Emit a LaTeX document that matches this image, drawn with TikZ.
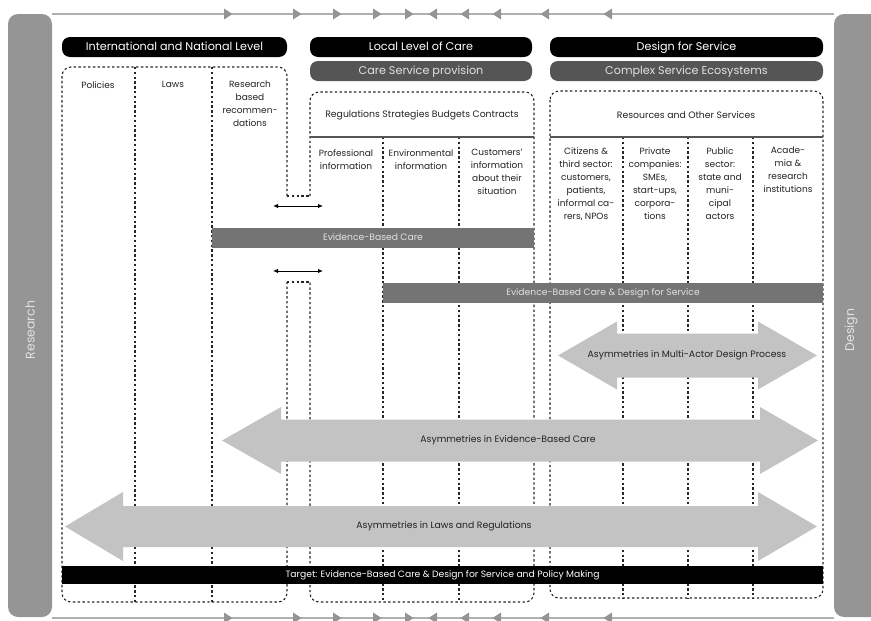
\documentclass[tikz,border=0pt]{standalone}
\usepackage{fontspec}
\usetikzlibrary{arrows.meta}
\setmainfont{Poppins}
\definecolor{sidegrey}{HTML}{959595}
\definecolor{flowgrey}{HTML}{AFAFAF}
\definecolor{tipgrey}{HTML}{949494}
\definecolor{bandgrey}{HTML}{555555}
\definecolor{bargrey}{HTML}{747474}
\definecolor{asymgrey}{HTML}{C3C3C3}
\definecolor{inkgrey}{HTML}{222222}
\definecolor{paletext}{HTML}{E2E2E2}

% double-headed block arrow: left tip, left head base, right head base, right tip, centre y, shaft half height, head half height
\newcommand\asymarrow[7]{%
  \fill[asymgrey] (#1,#5) -- (#2,#5-#7) -- (#2,#5-#6) -- (#3,#5-#6) -- (#3,#5-#7)
    -- (#4,#5) -- (#3,#5+#7) -- (#3,#5+#6) -- (#2,#5+#6) -- (#2,#5+#7) -- cycle;}

\begin{document}
\begin{tikzpicture}[x=1pt,y=-1pt,
  hdrblack/.style={fill=black, rounded corners=8pt, text=white, inner sep=0pt,
    minimum height=20pt, text height=9pt, text depth=2pt, font=\fontsize{11.2}{12}\selectfont},
  hdrgrey/.style={hdrblack, fill=bandgrey, text=paletext},
  evbar/.style={fill=bargrey, text=paletext, inner sep=0pt, minimum height=20pt,
    text height=7.4pt, text depth=1.8pt, font=\fontsize{9.2}{10}\selectfont},
  dots/.style={draw=black!85, line width=1.1pt, dash pattern=on 2.4pt off 2.4pt},
  dotbox/.style={dots, rounded corners=9pt},
  rule/.style={draw=bandgrey, line width=1.4pt},
  coltext/.style={text=inkgrey, align=center, inner sep=0pt, anchor=north,
    font=\fontsize{9}{13}\selectfont},
  asymtext/.style={text=inkgrey, inner sep=0pt, font=\fontsize{9.3}{10}\selectfont},
  sidetext/.style={text=paletext, rotate=90, inner sep=0pt, font=\fontsize{12.5}{14}\selectfont},
  flow/.style={draw=flowgrey, line width=1.4pt},
  link/.style={draw=black, line width=1pt, {Latex[length=5pt,width=4.5pt]}-{Latex[length=5pt,width=4.5pt]}}
]
\useasboundingbox (0,0) rectangle (871,621);

% ---- side bars ----
\fill[sidegrey, rounded corners=10pt] (8,14) rectangle (52,617);
\fill[sidegrey, rounded corners=10pt] (834,14) rectangle (880,617);
\node[sidetext] (research) at (30,330) {Research};
\node[sidetext] (design) at (851,330) {Design};

% ---- flow lines with direction marks ----
\coordinate (ftl) at (52,14);  \coordinate (ftr) at (834,14);
\coordinate (fbl) at (52,618); \coordinate (fbr) at (834,618);
\draw[flow] (ftl) -- (ftr);
\draw[flow] (fbl) -- (fbr);
\foreach \yy in {14,618}{
  \foreach \xx in {228,297,337,377,409}
    \fill[tipgrey] (\xx-4,\yy-5.5) -- (\xx+4.5,\yy) -- (\xx-4,\yy+5.5) -- cycle;
  \foreach \xx in {433,465,497,545,608}
    \fill[tipgrey] (\xx+4,\yy-5.5) -- (\xx-4.5,\yy) -- (\xx+4,\yy+5.5) -- cycle;
}

% ---- headers ----
\node[hdrblack, minimum width=225pt] (intl) at (174.5,47) {International and National Level};
\node[hdrblack, minimum width=222pt] (local) at (421,47) {Local Level of Care};
\node[hdrgrey, minimum width=222pt] (care) at (421,71) {Care Service provision};
\node[hdrblack, minimum width=273pt] (dfs) at (686.5,47) {Design for Service};
\node[hdrgrey, minimum width=273pt] (ecos) at (686.5,71) {Complex Service Ecosystems};

% ---- dotted frames ----
% national frame, open on the right between the two links
\draw[dotbox] (287,196) -- (287,67) -- (62,67) -- (62,602) -- (287,602) -- (287,282);
% local frame, open on the left between the two links
\draw[dotbox] (310,196) -- (310,92) -- (534,92) -- (534,602) -- (310,602) -- (310,282);
\draw[dots] (287,196) -- (310,196);
\draw[dots] (287,282) -- (310,282);
% design frame
\draw[dotbox] (550,91) rectangle (823,598);

% column dividers
\foreach \xx in {135,212} \draw[dots] (\xx,67) -- (\xx,602);
\foreach \xx in {383,459} \draw[dots] (\xx,137) -- (\xx,602);
\foreach \xx in {623,688,753} \draw[dots] (\xx,137) -- (\xx,598);

% section rules
\draw[rule] (310,137) -- (534,137);
\draw[rule] (550,137) -- (823,137);

% ---- column texts ----
\node[coltext] (policies) at (98,81) {Policies};
\node[coltext] (laws) at (173,81) {Laws};
\node[coltext] (recomm) at (250,81) {Research\\based\\recommen-\\dations};
\node[asymtext] (regs) at (422,115) {Regulations Strategies Budgets Contracts};
\node[asymtext] (resources) at (686,115) {Resources and Other Services};
\node[coltext] (prof) at (346,149) {Professional\\information};
\node[coltext] (env) at (421,149) {Environmental\\information};
\node[coltext] (cust) at (497,149) {Customers'\\information\\about their\\situation};
\node[coltext] (citizens) at (586,147) {Citizens \&\\third sector:\\customers,\\patients,\\informal ca-\\rers, NPOs};
\node[coltext] (private) at (655,147) {Private\\companies:\\SMEs,\\start-ups,\\corpora-\\tions};
\node[coltext] (public) at (720,147) {Public\\sector:\\state and\\muni-\\cipal\\actors};
\node[coltext] (academia) at (788,147) {Acade-\\mia \&\\research\\institutions};

% ---- links between research and care ----
\coordinate (la1) at (273,206); \coordinate (lb1) at (323,206);
\coordinate (la2) at (273,271); \coordinate (lb2) at (323,271);
\draw[link] (la1) -- (lb1);
\draw[link] (la2) -- (lb2);

% ---- evidence bars ----
\node[evbar, minimum width=322pt] (ebc) at (373,238) {Evidence-Based Care};
\node[evbar, minimum width=440pt] (ebcdfs) at (603,292.5) {Evidence-Based Care \& Design for Service};

% ---- asymmetry arrows ----
\asymarrow{558}{617}{758}{817}{355.5}{22}{34}
\node[asymtext] (asymma) at (687,355.5) {Asymmetries in Multi-Actor Design Process};
\asymarrow{222}{281}{760}{818}{440.5}{21}{33.5}
\node[asymtext] (asymebc) at (508,440.5) {Asymmetries in Evidence-Based Care};
\asymarrow{65}{123}{758}{817}{526.5}{20.5}{34.5}
\node[asymtext] (asymlaw) at (444,526.5) {Asymmetries in Laws and Regulations};

% ---- target ----
\node[fill=black, text=white, inner sep=0pt, minimum width=761pt, minimum height=18pt,
  text height=7.4pt, text depth=1.8pt, font=\fontsize{9.2}{10}\selectfont] (target) at (442.5,575)
  {Target: Evidence-Based Care \& Design for Service and Policy Making};
\end{tikzpicture}
\end{document}
